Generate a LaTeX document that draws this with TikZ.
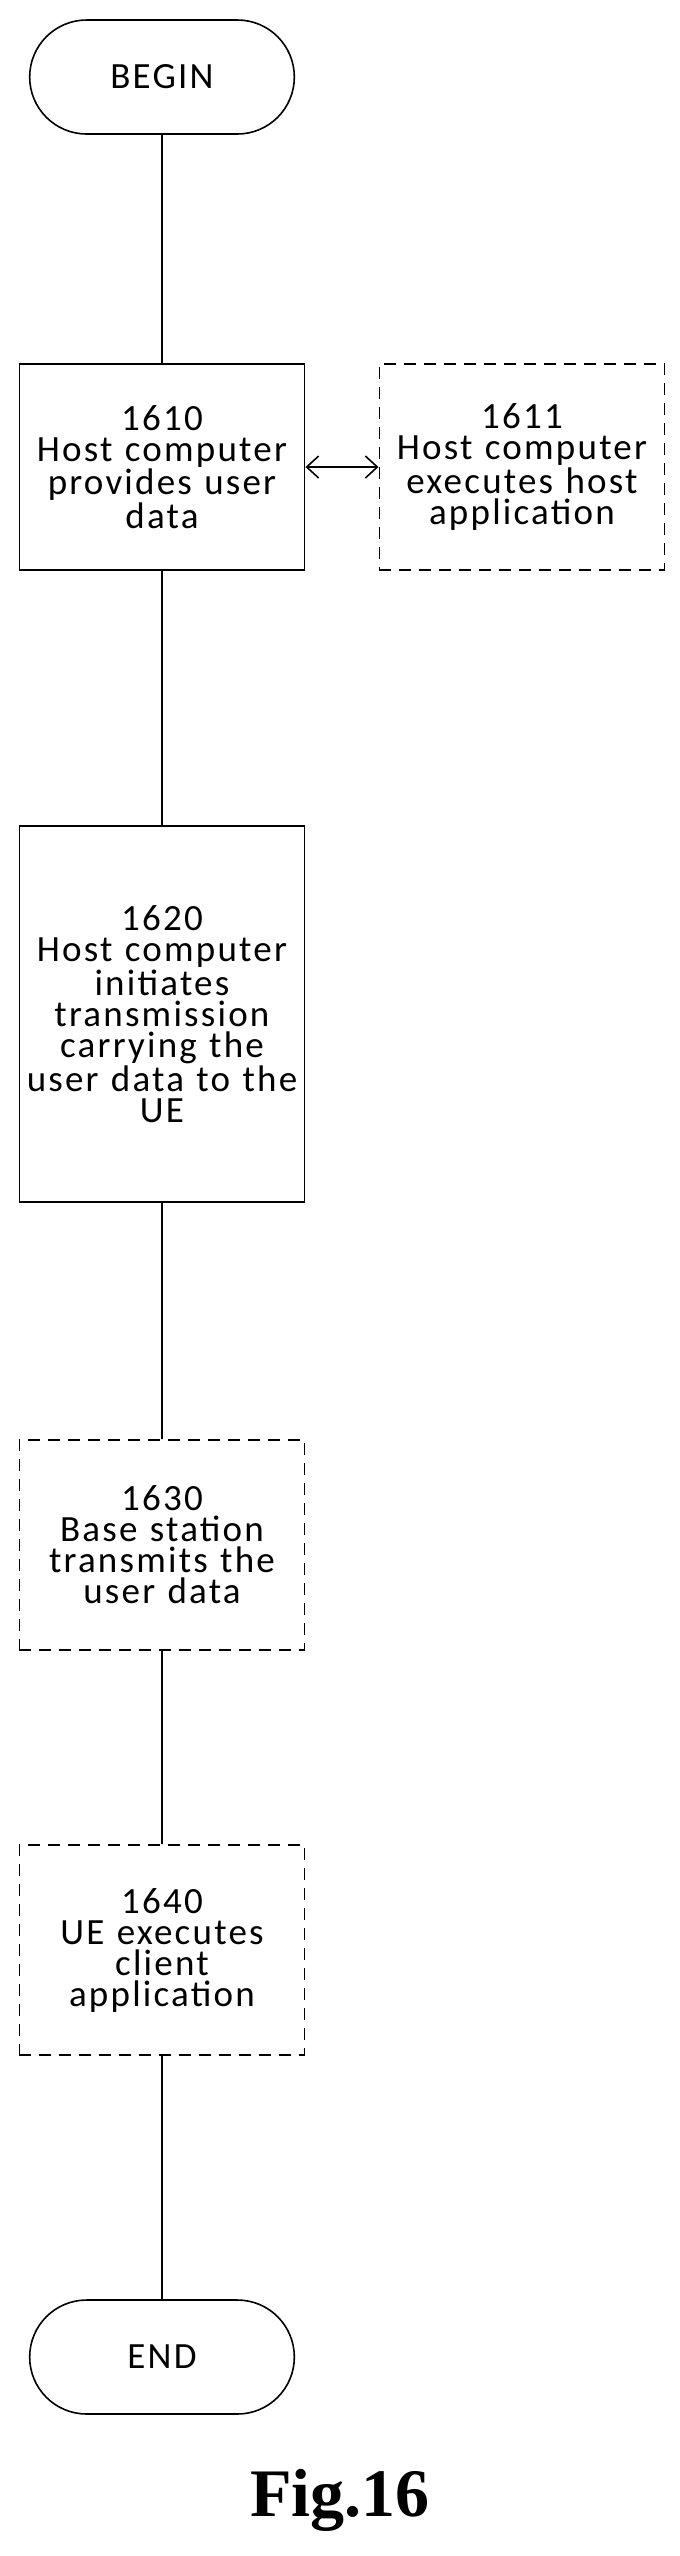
\documentclass[tikz,border=0pt]{standalone}
\usepackage{fontspec}
\setmainfont{Carlito}[LetterSpace=6]
\newfontfamily\figfont{Liberation Serif}
\usetikzlibrary{shapes.misc,arrows.meta}
\tikzstyle{stepbox} = [draw=black,thick,minimum width=139pt,text width=136pt,align=center,font=\fontsize{18.5}{15.5}\selectfont]
\tikzstyle{optbox} = [stepbox,dash pattern=on 6pt off 4pt]
\tikzstyle{termbox} = [draw=black,thick,rounded rectangle,minimum width=139pt,minimum height=57pt,font=\fontsize{18.5}{15.5}\selectfont]

\begin{document}
\begin{tikzpicture}[x=0.5pt,y=-0.5pt]
  \useasboundingbox (0,0) rectangle (680,2556);
  \node[termbox] (begin) at (162,77) {BEGIN};
  \node[stepbox,minimum height=103pt] (s1610) at (162,467) {1610\\Host computer\\provides user\\data};
  \node[optbox,minimum height=103pt] (s1611) at (522,467) {1611\\Host computer\\executes host\\application};
  \node[stepbox,minimum height=188pt] (s1620) at (162,1014) {1620\\Host computer\\initiates\\transmission\\carrying the\\user data to the\\UE};
  \node[optbox,minimum height=105pt] (s1630) at (162,1545) {1630\\Base station\\transmits the\\user data};
  \node[optbox,minimum height=105pt] (s1640) at (162,1950) {1640\\UE executes\\client\\application};
  \node[termbox] (end) at (162,2357) {END};
  \node[font=\figfont\bfseries\fontsize{34}{40}\selectfont] (fig) at (340,2500) {Fig.16};
  \draw[thick] (begin) -- (s1610) -- (s1620) -- (s1630) -- (s1640) -- (end);
  \draw[thick,{Straight Barb[length=6pt,width=11pt]}-{Straight Barb[length=6pt,width=11pt]}] (s1610) -- (s1611);
\end{tikzpicture}
\end{document}
